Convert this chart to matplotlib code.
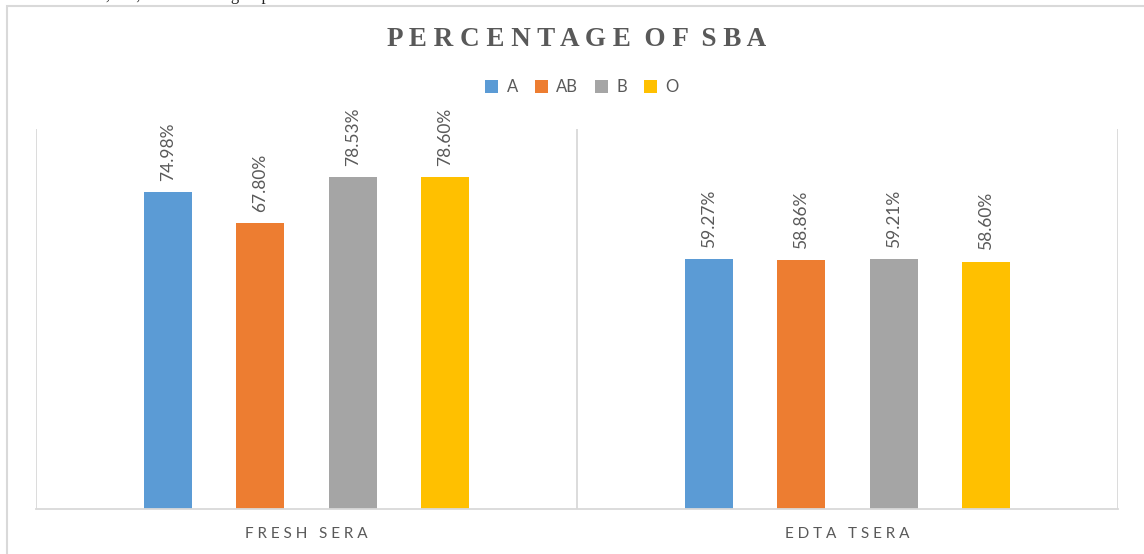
import matplotlib.pyplot as plt
import numpy as np
from matplotlib.patches import Rectangle

# data
groups = ["FRESH SERA", "EDTA TSERA"]
blood_groups = ["A", "AB", "B", "O"]
sba_a = [74.98, 59.27]
sba_ab = [67.80, 58.86]
sba_b = [78.53, 59.21]
sba_o = [78.60, 58.60]
colors = ["#5B9BD5", "#ED7D31", "#A5A5A5", "#FFC000"]

series = [sba_a, sba_ab, sba_b, sba_o]
text_grey = "#595959"
line_grey = "#D9D9D9"
sans = ["Lato", "DejaVu Sans"]


def spaced(s, word_gap="   "):
    """Letter-spaced caps like Excel's chart text."""
    return word_gap.join(" ".join(w) for w in s.split(" "))


fig = plt.figure(figsize=(11.44, 5.54), dpi=100)
W, H = 1144, 554
ax = fig.add_axes([36 / W, (H - 509) / H, (1118 - 36) / W, (509 - 129) / H])

x = np.arange(len(groups))
bar_w = 48 / 541
step = 92.5 / 541
offsets = (np.arange(len(blood_groups)) - 1.5) * step

for i, (name, vals) in enumerate(zip(blood_groups, series)):
    bars = ax.bar(x + offsets[i], vals, bar_w, color=colors[i], label=name)
    for b, v in zip(bars, vals):
        ax.annotate(f"{v:.2f}%", (b.get_x() + b.get_width() / 2, v),
                    xytext=(0, 8), textcoords="offset points",
                    rotation=90, ha="center", va="bottom",
                    fontsize=12.5, color=text_grey, family=sans)

ax.set_xlim(-0.5, 1.5)
ax.set_ylim(0, 90)
ax.set_yticks([])
ax.set_xticks(x)
ax.set_xticklabels([spaced(g) for g in groups], fontsize=11, color=text_grey,
                   family=sans)
ax.tick_params(axis="x", length=0, pad=13)
for side in ["top", "right", "left"]:
    ax.spines[side].set_visible(False)
ax.spines["bottom"].set_color(line_grey)
ax.spines["bottom"].set_linewidth(1.3)
# category separators
for xv in [-0.5, 0.5, 1.5]:
    ax.axvline(xv, color=line_grey, lw=1.3, zorder=0)

fig.text(577 / W, 1 - 39 / H, spaced("PERCENTAGE OF SBA", "  "), ha="center",
         va="center", fontsize=19.5, fontweight="bold", color=text_grey,
         family=["Liberation Serif", "DejaVu Serif"])

leg = fig.legend(loc="center", bbox_to_anchor=(582 / W, 1 - 87 / H), ncol=4,
                 frameon=False, handlelength=0.8, handleheight=0.8,
                 handletextpad=0.5, columnspacing=1.0,
                 prop={"family": sans, "size": 12})
for t in leg.get_texts():
    t.set_color(text_grey)

# chart frame, running off the right and bottom of the crop
fig.patches.append(Rectangle((6.5 / W, -0.1), 1.2, 1 - 6 / H + 0.1,
                             transform=fig.transFigure, fill=False,
                             edgecolor=line_grey, lw=1.5))

# cut-off line of caption text above the chart
fig.text(0.0, 1 - 0.5 / H, "and tested for A, AB, and O blood groups.", ha="left",
         va="baseline", fontsize=12, color="#222222",
         family=["Liberation Serif", "DejaVu Serif"])

fig.savefig("out.png", dpi=100)
